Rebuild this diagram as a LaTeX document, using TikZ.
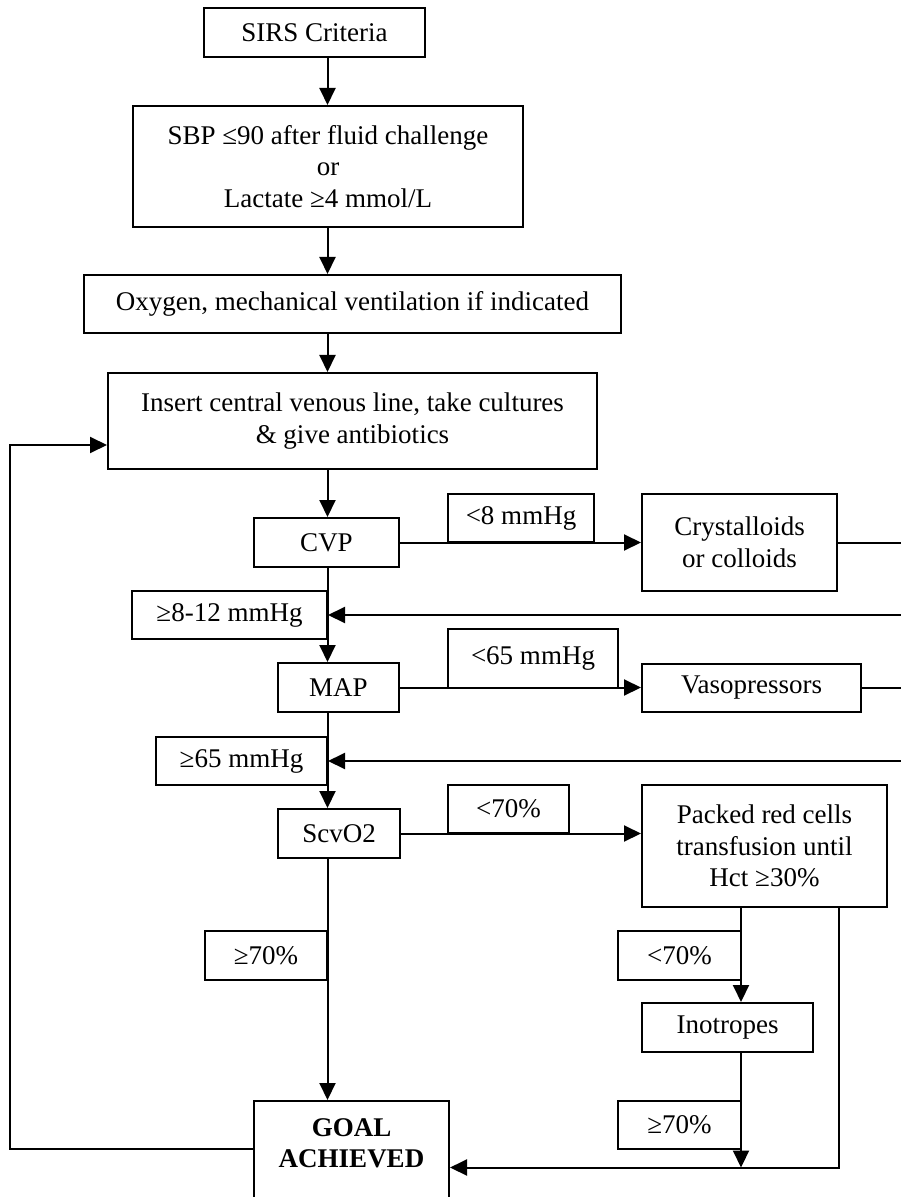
\documentclass[tikz,border=0pt]{standalone}
\usepackage{fontspec}
\setmainfont{Liberation Serif}
\usetikzlibrary{arrows.meta}

\begin{document}
\begin{tikzpicture}[x=0.5pt, y=-0.5pt,
    box/.style={draw=black, line width=1pt, align=center, inner sep=0pt, font=\fontsize{13.5}{15.75}\selectfont},
    arr/.style={draw=black, line width=1pt, -{Triangle[length=8.5pt,width=8pt]}}]
      \useasboundingbox (0,0) rectangle (900,1197);
      \coordinate (col) at (327.5,0);
      \coordinate (pc) at (741,0);
      \coordinate (pr) at (839,0);
      \coordinate (join) at (741,1167.5);
      \coordinate (fb1) at (10,1149);
      \coordinate (fb2) at (10,445);
      \node[box, minimum width=110.5pt, minimum height=24.5pt] (sirs) at (314.5,32.5) {SIRS Criteria};
      \node[box, minimum width=195pt, minimum height=60.5pt] (crit) at (328,166.5) {SBP ≤90 after fluid challenge\\or\\Lactate ≥4 mmol/L};
      \node[box, minimum width=268.5pt, minimum height=29pt] (oxy) at (352.5,304) {Oxygen, mechanical ventilation if indicated};
      \node[box, minimum width=244.5pt, minimum height=48pt] (venous) at (352.5,421) {Insert central venous line, take cultures\\\& give antibiotics};
      \node[box, minimum width=72.5pt, minimum height=24.5pt] (cvp) at (326.5,542.5) {CVP};
      \node[box, minimum width=73pt, minimum height=24pt] (lteight) at (521,518) {<8 mmHg};
      \node[box, minimum width=97.5pt, minimum height=48.5pt] (cryst) at (739.5,542.5) {Crystalloids\\or colloids};
      \node[box, minimum width=97.5pt, minimum height=24pt] (geeight) at (229.5,615) {≥8-12 mmHg};
      \node[box, minimum width=60.5pt, minimum height=24.5pt] (map) at (338.5,687.5) {MAP};
      \node[box, minimum width=85pt, minimum height=29.5pt] (ltsixtyfive) at (533,658.5) {<65 mmHg};
      \node[box, minimum width=109.5pt, minimum height=24pt] (vaso) at (751.5,688) {Vasopressors};
      \node[box, minimum width=85.5pt, minimum height=24pt] (gesixtyfive) at (241.5,761) {≥65 mmHg};
      \node[box, minimum width=61pt, minimum height=24.5pt] (scv) at (339,833.5) {ScvO2};
      \node[box, minimum width=60.5pt, minimum height=24pt] (ltseventy) at (508.5,809) {<70\%};
      \node[box, minimum width=122.5pt, minimum height=61pt] (packed) at (764.5,846) {Packed red cells\\transfusion until\\Hct ≥30\%};
      \node[box, minimum width=61pt, minimum height=24.5pt] (geseventy) at (266,955.5) {≥70\%};
      \node[box, minimum width=61.5pt, minimum height=24.5pt] (ltseventyb) at (679.5,955.5) {<70\%};
      \node[box, minimum width=85.5pt, minimum height=24.5pt] (ino) at (727.5,1027.5) {Inotropes};
      \node[box, minimum width=61.5pt, minimum height=24pt] (geseventyb) at (679.5,1125) {≥70\%};
      \node[box, minimum width=97.5pt, minimum height=58pt] (goal) at (351.5,1159) {\textbf{GOAL}\\\textbf{ACHIEVED}\\\mbox{}};
      \draw[arr] (sirs.south -| col) -- (crit.north -| col);
      \draw[arr] (crit.south -| col) -- (oxy.north -| col);
      \draw[arr] (oxy.south -| col) -- (venous.north -| col);
      \draw[arr] (venous.south -| col) -- (cvp.north -| col);
      \draw[arr] (cvp.east) -- (cryst.west |- cvp.east);
      \draw[arr] (cryst.east) -- (905,542.5) -- (905,615) -- (geeight.east);
      \draw[arr] (cvp.south -| col) -- (map.north -| col);
      \draw[arr] (map.east) -- (vaso.west |- map.east);
      \draw[arr] (vaso.east) -- (905,688) -- (905,761) -- (gesixtyfive.east);
      \draw[arr] (map.south -| col) -- (scv.north -| col);
      \draw[arr] (scv.east) -- (scv.east -| packed.west);
      \draw[arr] (scv.south -| col) -- (goal.north -| col);
      \draw[arr] (packed.south -| pc) -- (ino.north -| pc);
      \draw[arr] (ino.south -| pc) -- (join);
      \draw[arr] (packed.south -| pr) -- (pr |- join) -- (goal.east |- join);
      \draw[arr] (goal.west |- fb1) -- (fb1) -- (fb2) -- (venous.west |- fb2);
    \end{tikzpicture}
\end{document}
